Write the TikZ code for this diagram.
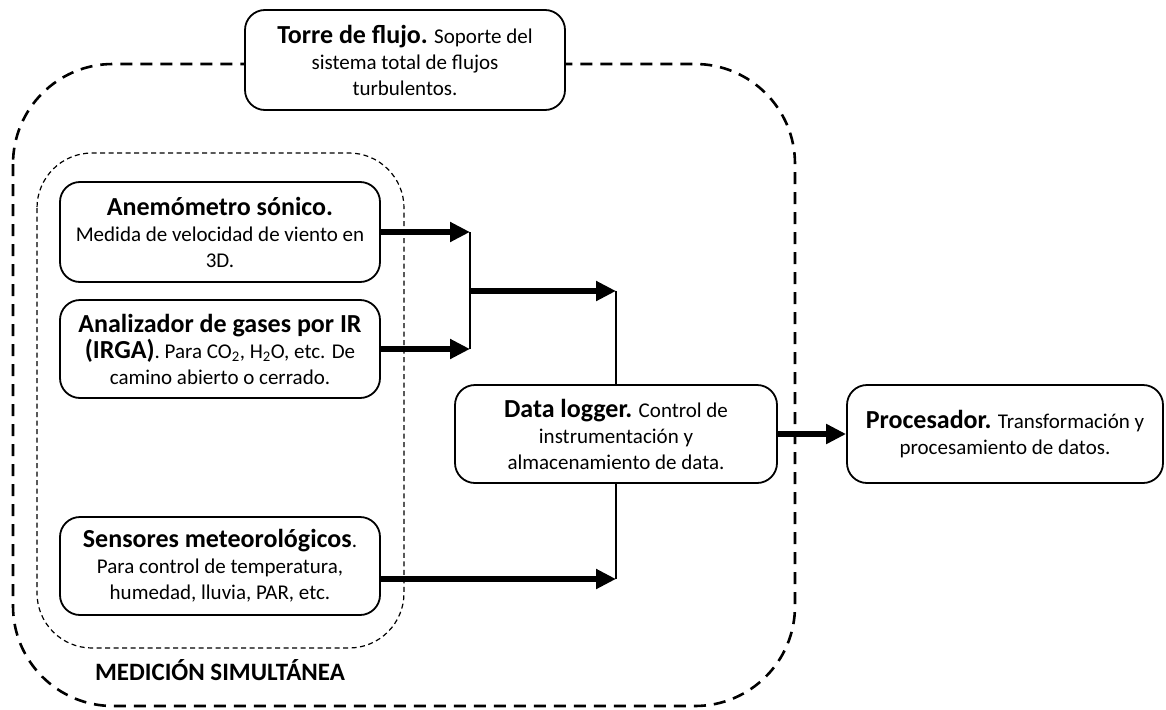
\documentclass[tikz,border=0pt]{standalone}
\usepackage{fontspec}
\setmainfont{Carlito}
\usetikzlibrary{arrows.meta,calc}

% bold heading inside a box
\newcommand{\hd}[1]{{\fontsize{26}{31}\selectfont\bfseries #1}}

\begin{document}
\begin{tikzpicture}[x=1pt,y=-1pt,
  box/.style={draw, line width=1.8pt, rounded corners=20pt, fill=white,
    align=center, inner sep=0pt, minimum width=320pt, minimum height=99pt,
    font=\fontsize{21}{26}\selectfont},
  flow/.style={line width=6pt, -{Triangle[length=20pt,width=19pt]}},
  link/.style={line width=1.8pt},
  outerzone/.style={line width=2.6pt, dash pattern=on 12pt off 8pt, rounded corners=100pt},
  innerzone/.style={line width=1.2pt, dash pattern=on 5pt off 3.5pt, rounded corners=55pt},
]
\useasboundingbox (0,0) rectangle (1166,709);

% measurement zones
\draw[outerzone] (13,64) rectangle (795,706);
\draw[innerzone] (37,153) rectangle (404,648);
\node[font=\fontsize{25}{30}\selectfont\bfseries] (simlabel) at (220,670) {MEDICIÓN SIMULTÁNEA};

% boxes
\node[box, minimum height=100pt] (torre) at (405,60)
  {\hd{Torre de flujo.} Soporte del\\ sistema total de flujos\\ turbulentos.};
\node[box, minimum height=100pt] (anem) at (220,232)
  {\hd{Anemómetro sónico.}\\ Medida de velocidad de viento en\\ 3D.};
\node[box, minimum height=98pt] (anal) at (220,349)
  {\hd{Analizador de gases por IR}\\ \hd{(IRGA)}. Para CO\textsubscript{2}, H\textsubscript{2}O, etc. De\\ camino abierto o cerrado.};
\node[box, minimum height=98pt] (sens) at (220,566)
  {\hd{Sensores meteorológicos}.\\ Para control de temperatura,\\ humedad, lluvia, PAR, etc.};
\node[box, minimum width=322pt, minimum height=98pt] (dl) at (616,434)
  {\hd{Data logger.} Control de\\ instrumentación y\\ almacenamiento de data.};
\node[box, minimum width=316pt, minimum height=98pt] (proc) at (1005,434)
  {\hd{Procesador.} Transformación y\\ procesamiento de datos.};

% connectors
\coordinate (bus) at (470,291);
\coordinate (sout) at ($(sens.east)+(0,13)$);
\draw[flow] (anem.east) -- (anem.east -| bus);
\draw[flow] (anal.east) -- (anal.east -| bus);
\draw[link] (anem.east -| bus) -- (anal.east -| bus);
\draw[flow] (bus) -- (bus -| dl.north);
\draw[link] (bus -| dl.north) -- (dl.north);
\draw[flow] (sout) -- (sout -| dl.south);
\draw[link] (dl.south) -- (sout -| dl.south);
\draw[flow] (dl.east) -- (proc.west);
\end{tikzpicture}
\end{document}
